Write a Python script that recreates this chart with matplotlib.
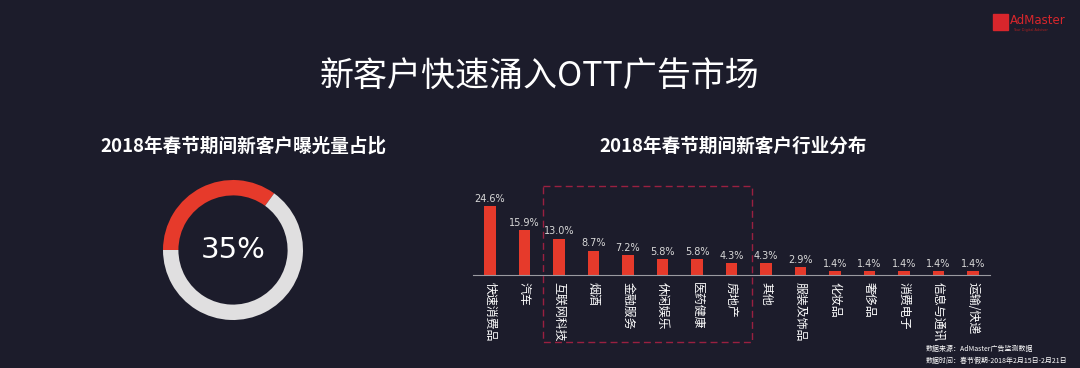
import numpy as np
import matplotlib.pyplot as plt
from matplotlib.patches import Rectangle

plt.rcParams['font.family'] = ['Noto Sans CJK SC', 'DejaVu Sans']

# data
share_new = 35
categories = ['快速消费品', '汽车', '互联网科技', '烟酒', '金融服务', '休闲娱乐', '医药健康',
              '房地产', '其他', '服装及饰品', '化妆品', '奢侈品', '消费电子', '信息与通讯', '运输/快递']
values = [24.6, 15.9, 13.0, 8.7, 7.2, 5.8, 5.8, 4.3, 4.3, 2.9, 1.4, 1.4, 1.4, 1.4, 1.4]

bg = '#1c1c2b'
red = '#e63a2b'
W, H = 1080, 368

fig = plt.figure(figsize=(10.8, 3.68), dpi=100, facecolor=bg)

# overlay axes in pixel coords for text and decorations
ov = fig.add_axes([0, 0, 1, 1])
ov.set_xlim(0, W)
ov.set_ylim(H, 0)
ov.axis('off')
ov.set_facecolor(bg)

ov.text(540, 76, '新客户快速涌入OTT广告市场', color='white', fontsize=24.5,
        fontweight='light', ha='center', va='center')
ov.text(243, 146, '2018年春节期间新客户曝光量占比', color='white', fontsize=13.4,
        fontweight='bold', ha='center', va='center')
ov.text(733, 146, '2018年春节期间新客户行业分布', color='white', fontsize=13.4,
        fontweight='bold', ha='center', va='center')

# logo
ov.add_patch(Rectangle((993, 14), 15, 16, color='#d8262c'))
ov.text(1010, 21, 'AdMaster', color='#d8262c', fontsize=8.5, ha='left', va='center',
        family='DejaVu Sans')
ov.text(1013, 30, 'Your Digital Advisor', color='#b02020', fontsize=2.5, ha='left',
        va='center', family='DejaVu Sans')

# footer
ov.text(926, 349, '数据来源：AdMaster广告监测数据', color='white', fontsize=5,
        ha='left', va='center')
ov.text(926, 361, '数据时间：春节假期-2018年2月15日-2月21日', color='white', fontsize=5,
        ha='left', va='center')

# dashed box
ov.add_patch(Rectangle((543, 186), 209, 156, fill=False, edgecolor='#9a2040',
                       linestyle=(0, (5, 3)), linewidth=1.0))

# donut
pa = fig.add_axes([(233 - 70) / W, 1 - (250 + 70) / H, 140 / W, 140 / H])
pa.pie([share_new, 100 - share_new], colors=[red, '#e0dfe0'], startangle=180,
       counterclock=False, radius=1, wedgeprops=dict(width=0.22, edgecolor='none'))
pa.set_xlim(-1, 1)
pa.set_ylim(-1, 1)
pa.set_aspect('equal')
pa.text(0, 0, f'{share_new}%', color='white', fontsize=21, ha='center', va='center',
        family='DejaVu Sans')

# bars
step = 34.5
left = 490 - step / 2
ax = fig.add_axes([left / W, 1 - 275 / H, step * len(values) / W, 84 / H])
ax.set_facecolor('none')
x = np.arange(len(values))
ax.bar(x, values, width=0.33, color=red)
ax.set_xlim(-0.5, len(values) - 0.5)
ax.set_ylim(0, 30)
for s in ['top', 'right', 'left']:
    ax.spines[s].set_visible(False)
ax.spines['bottom'].set_color('#9a9aa0')
ax.spines['bottom'].set_linewidth(0.8)
ax.set_yticks([])
ax.set_xticks(x)
ax.set_xticklabels(categories, rotation=-90, color='white', fontsize=8.6,
                   va='top', ha='center')
ax.tick_params(axis='x', length=0, pad=5)
for xi, v in zip(x, values):
    ax.text(xi, v + 0.8, f'{v:.1f}%', color='#d8d8d8', fontsize=7,
            ha='center', va='bottom', family='DejaVu Sans')

fig.savefig('out.png', dpi=100, facecolor=bg)
